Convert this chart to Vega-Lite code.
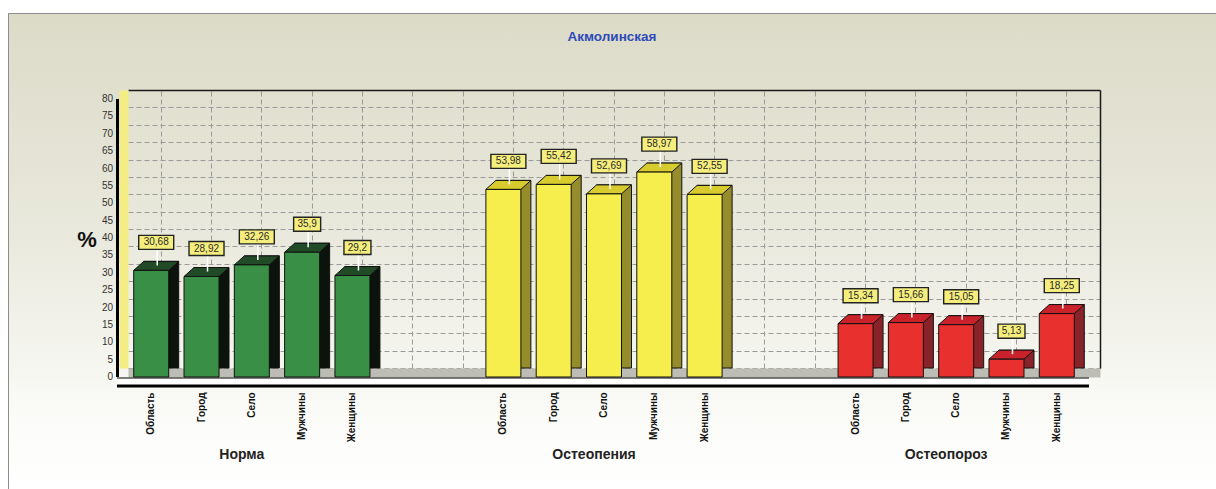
{
  "$schema": "https://vega.github.io/schema/vega-lite/v6.json",
  "autosize": "none",
  "padding": {"left": 8, "top": 13, "right": 0, "bottom": 0},
  "width": 1208,
  "height": 476,
  "background": "#ffffff",
  "view": {
    "stroke": "#8c8c8c",
    "strokeWidth": 1,
    "fill": {
      "gradient": "linear",
      "x1": 0, "y1": 0, "x2": 0, "y2": 1,
      "stops": [
        {"offset": 0, "color": "#dcdbc8"},
        {"offset": 0.45, "color": "#e8e8dc"},
        {"offset": 0.85, "color": "#fbfbf8"},
        {"offset": 1, "color": "#ffffff"}
      ]
    }
  },
  "title": {
    "text": "Акмолинская",
    "anchor": "middle",
    "frame": "group",
    "orient": "top",
    "offset": -44,
    "baseline": "bottom",
    "font": "Liberation Sans",
    "fontSize": 13.5,
    "fontWeight": "bold",
    "color": "#2d4ab8"
  },
  "config": {
    "locale": {"number": {"decimal": ",", "thousands": " ", "grouping": [3], "currency": ["", ""]}},
    "axis": {"labelFont": "Liberation Sans", "titleFont": "Liberation Sans"},
    "text": {"font": "Liberation Sans"}
  },
  "data": {
    "values": [
      {"group": "Норма", "bar": "Норма/Область", "value": 30.68},
      {"group": "Норма", "bar": "Норма/Город", "value": 28.92},
      {"group": "Норма", "bar": "Норма/Село", "value": 32.26},
      {"group": "Норма", "bar": "Норма/Мужчины", "value": 35.9},
      {"group": "Норма", "bar": "Норма/Женщины", "value": 29.2},
      {"group": "Остеопения", "bar": "Остеопения/Область", "value": 53.98},
      {"group": "Остеопения", "bar": "Остеопения/Город", "value": 55.42},
      {"group": "Остеопения", "bar": "Остеопения/Село", "value": 52.69},
      {"group": "Остеопения", "bar": "Остеопения/Мужчины", "value": 58.97},
      {"group": "Остеопения", "bar": "Остеопения/Женщины", "value": 52.55},
      {"group": "Остеопороз", "bar": "Остеопороз/Область", "value": 15.34},
      {"group": "Остеопороз", "bar": "Остеопороз/Город", "value": 15.66},
      {"group": "Остеопороз", "bar": "Остеопороз/Село", "value": 15.05},
      {"group": "Остеопороз", "bar": "Остеопороз/Мужчины", "value": 5.13},
      {"group": "Остеопороз", "bar": "Остеопороз/Женщины", "value": 18.25}
    ]
  },
  "resolve": {
    "scale": {"color": "independent"},
    "axis": {"x": "independent", "y": "independent"}
  },
  "layer": [
    {
      "description": "back/side face of each 3D bar, with the horizontal back-wall grid and the floor",
      "mark": {"type": "bar", "width": 35, "stroke": "#111111", "strokeWidth": 1},
      "encoding": {
        "x": {
          "field": "bar", "type": "nominal",
          "scale": {
            "domain": [
              "Норма/Область", "Норма/Город", "Норма/Село", "Норма/Мужчины", "Норма/Женщины", " 1", " 2",
              "Остеопения/Область", "Остеопения/Город", "Остеопения/Село", "Остеопения/Мужчины", "Остеопения/Женщины", " 3", " 4",
              "Остеопороз/Область", "Остеопороз/Город", "Остеопороз/Село", "Остеопороз/Мужчины", "Остеопороз/Женщины"
            ],
            "range": [120, 1092],
            "paddingInner": 0,
            "paddingOuter": 0.16
          },
          "axis": {
            "orient": "bottom", "offset": -116.5, "title": null,
            "labels": false, "ticks": false, "tickSize": 0, "grid": false,
            "domainColor": "#bdbdb6", "domainWidth": 9
          }
        },
        "y": {
          "field": "value", "type": "quantitative",
          "scale": {"domain": [0, 80], "range": [355, 77]},
          "axis": {
            "orient": "left", "title": null,
            "values": [0, 5, 10, 15, 20, 25, 30, 35, 40, 45, 50, 55, 60, 65, 70, 75, 80],
            "labels": false, "ticks": false, "domain": false,
            "grid": true,
            "gridColor": {"condition": {"test": "datum.value === 80", "value": "#1a1a1a"}, "value": "#9a9a9a"},
            "gridDash": {"condition": {"test": "datum.value === 80", "value": []}, "value": [5, 3]},
            "gridWidth": {"condition": {"test": "datum.value === 80", "value": 1.5}, "value": 1}
          }
        },
        "color": {
          "field": "group", "type": "nominal",
          "scale": {"domain": ["Норма", "Остеопения", "Остеопороз"], "range": ["#0c120c", "#958c2c", "#88232a"]},
          "legend": null
        }
      }
    },
    {
      "description": "top face of each 3D bar, with the base slab outline and the left wall",
      "mark": {
        "type": "point", "filled": true, "opacity": 1,
        "shape": "M-0.6364,0L0.6364,0L0.2727,0.3273L-1,0.3273Z",
        "size": 3025, "stroke": "#111111", "strokeWidth": 1
      },
      "encoding": {
        "x": {
          "field": "bar", "type": "nominal",
          "axis": {
            "orient": "bottom", "offset": -95.5, "translate": -11, "title": null,
            "labels": false, "ticks": false, "tickSize": 0, "grid": false,
            "domainColor": "#000000", "domainWidth": 10
          }
        },
        "y": {
          "field": "value", "type": "quantitative",
          "axis": {
            "orient": "left", "offset": -115.5, "title": null,
            "labels": false, "ticks": false, "tickSize": 0, "grid": false,
            "domainColor": "#f4ec84", "domainWidth": 9
          }
        },
        "color": {
          "field": "group", "type": "nominal",
          "scale": {"domain": ["Норма", "Остеопения", "Остеопороз"], "range": ["#214a26", "#d8cb2e", "#c9222a"]},
          "legend": null
        }
      }
    },
    {
      "description": "front face of each 3D bar, with the value axis",
      "mark": {
        "type": "bar", "width": 35, "stroke": "#111111", "strokeWidth": 1,
        "xOffset": -10, "yOffset": 9, "y2Offset": 9
      },
      "encoding": {
        "x": {
          "field": "bar", "type": "nominal",
          "axis": {
            "orient": "bottom", "offset": -96.5, "translate": -11, "title": null,
            "labels": false, "ticks": false, "tickSize": 0, "grid": false,
            "domainColor": "#ffffff", "domainWidth": 6
          }
        },
        "y": {
          "field": "value", "type": "quantitative",
          "axis": {
            "orient": "left", "offset": -100.5, "translate": 9,
            "values": [0, 5, 10, 15, 20, 25, 30, 35, 40, 45, 50, 55, 60, 65, 70, 75, 80],
            "ticks": false, "tickSize": 0, "grid": false,
            "labelFontSize": 10, "labelColor": "#333333", "labelPadding": 4.5,
            "domainColor": "#000000", "domainWidth": 3,
            "title": "%", "titleFontSize": 22, "titleFontWeight": "bold", "titleColor": "#111111",
            "titleAngle": 0, "titleAlign": "center", "titleBaseline": "middle",
            "titleX": -30.5, "titleY": 218
          }
        },
        "color": {
          "field": "group", "type": "nominal",
          "scale": {"domain": ["Норма", "Остеопения", "Остеопороз"], "range": ["#3a8f47", "#f6ee4c", "#e8302f"]},
          "legend": null
        }
      }
    },
    {
      "description": "leader line from the bar top to its value box, with the category labels",
      "mark": {
        "type": "rule", "color": "#ffffff", "strokeWidth": 1.5,
        "xOffset": -4, "yOffset": 4, "y2Offset": -12
      },
      "encoding": {
        "x": {
          "field": "bar", "type": "nominal",
          "axis": {
            "orient": "bottom", "offset": -107.5, "title": null,
            "domain": false, "ticks": false, "tickSize": 0, "grid": false,
            "labelAngle": 270, "labelAlign": "right", "labelBaseline": "middle",
            "labelPadding": 10.5, "labelOffset": -10,
            "labelFontSize": 10, "labelFontWeight": "bold", "labelColor": "#111111",
            "labelOverlap": false, "labelBound": false,
            "labelExpr": "indexof(datum.value, '/') > 0 ? split(datum.value, '/')[1] : ''"
          }
        },
        "y": {"field": "value", "type": "quantitative", "axis": null},
        "y2": {"field": "value"}
      }
    },
    {
      "description": "value boxes, with the group names",
      "mark": {
        "type": "point", "filled": true, "opacity": 1,
        "fill": "#f5ee7c", "stroke": "#222222", "strokeWidth": 1.4,
        "xOffset": -5, "yOffset": -19
      },
      "encoding": {
        "x": {
          "field": "bar", "type": "nominal",
          "axis": {
            "orient": "bottom", "offset": -107.5, "title": null,
            "domain": false, "ticks": false, "tickSize": 0, "grid": false,
            "labelAngle": 0, "labelAlign": "center", "labelBaseline": "top",
            "labelPadding": 65.5, "labelOffset": -20,
            "labelFontSize": 14, "labelFontWeight": "bold", "labelColor": "#222222",
            "labelOverlap": false, "labelBound": false,
            "labelExpr": "split(datum.value, '/')[1] === 'Село' ? split(datum.value, '/')[0] : ''"
          }
        },
        "y": {"field": "value", "type": "quantitative", "axis": null},
        "shape": {
          "condition": {"test": "length(format(datum.value, '~g')) > 4", "value": "M-1,-0.4H1V0.4H-1Z"},
          "value": "M-1,-0.519H1V0.519H-1Z"
        },
        "size": {
          "condition": {"test": "length(format(datum.value, '~g')) > 4", "value": 1225},
          "value": 729
        }
      }
    },
    {
      "description": "value texts, with the vertical back-wall grid and the right edge of the back wall",
      "mark": {
        "type": "text", "fontSize": 10, "color": "#2a2a2a",
        "align": "center", "baseline": "middle",
        "xOffset": -5, "yOffset": -19
      },
      "encoding": {
        "x": {
          "field": "bar", "type": "nominal",
          "axis": {
            "orient": "top", "offset": 0, "title": null,
            "labels": false, "ticks": false, "tickSize": 0, "domain": false,
            "grid": true, "gridColor": "#9a9a9a", "gridDash": [5, 3], "gridWidth": 1
          }
        },
        "y": {
          "field": "value", "type": "quantitative",
          "axis": {
            "orient": "right", "offset": -116, "title": null,
            "labels": false, "ticks": false, "tickSize": 0, "grid": false,
            "domainColor": "#1a1a1a", "domainWidth": 1.5
          }
        },
        "text": {"field": "value", "type": "quantitative", "format": "~g"}
      }
    }
  ]
}
